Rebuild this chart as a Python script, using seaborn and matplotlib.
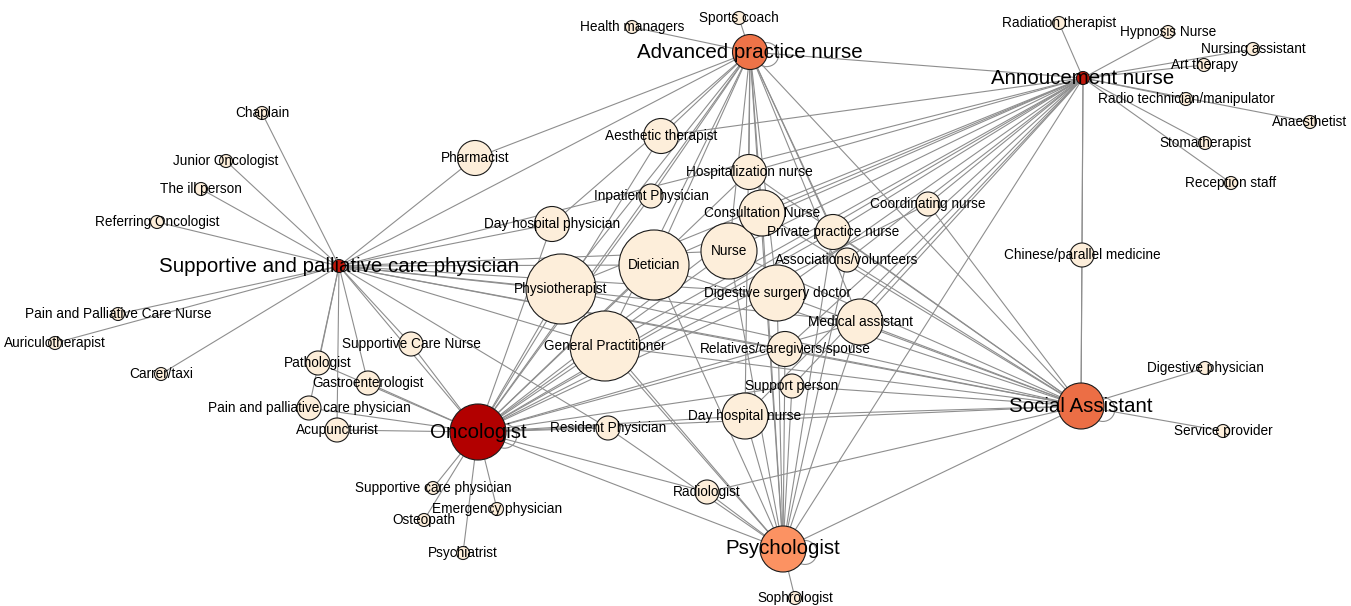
import pandas as pd
import numpy as np
import matplotlib.pyplot as plt
import seaborn as sns
from matplotlib.patches import Circle

# noeuds : nom, position du layout, poids (taille) et groupe (couleur)
names = [
    "Oncologist", "Supportive and palliative care physician", "Advanced practice nurse",
    "Annoucement nurse", "Social Assistant", "Psychologist",
    "Physiotherapist", "General Practitioner", "Dietician", "Nurse", "Digestive surgery doctor",
    "Consultation Nurse", "Day hospital nurse", "Medical assistant", "Hospitalization nurse",
    "Aesthetic therapist", "Pharmacist", "Day hospital physician", "Private practice nurse",
    "Relatives/caregivers/spouse", "Coordinating nurse", "Chinese/parallel medicine",
    "Supportive Care Nurse", "Pathologist", "Gastroenterologist", "Pain and palliative care physician",
    "Acupuncturist", "Inpatient Physician", "Support person", "Associations/volunteers",
    "Resident Physician", "Radiologist",
    "Health managers", "Sports coach", "Radiation therapist", "Hypnosis Nurse", "Nursing assistant",
    "Art therapy", "Radio technician/manipulator", "Anaesthetist", "Stomatherapist", "Reception staff",
    "Digestive physician", "Service provider", "Sophrologist", "Chaplain", "Junior Oncologist",
    "The ill person", "Referring Oncologist", "Pain and Palliative Care Nurse", "Auriculotherapist",
    "Carrer/taxi", "Supportive care physician", "Emergency physician", "Osteopath", "Psychiatrist",
]
pos_x = [478, 339, 750, 1083, 1081, 783,
         561, 605, 654, 729, 777, 762, 745, 860, 749, 661, 475, 552, 833, 785, 928, 1082,
         411, 318, 368, 309, 337, 651, 792, 847, 608, 707,
         632, 739, 1059, 1168, 1253, 1204, 1186, 1310, 1205, 1231, 1205, 1223, 795,
         262, 226, 201, 157, 118, 55, 161, 433, 497, 424, 463]
pos_y = [432, 266, 52, 78, 406, 549,
         289, 346, 265, 251, 293, 213, 416, 322, 172, 136, 158, 224, 232, 349, 204, 255,
         344, 363, 383, 408, 430, 196, 386, 260, 428, 492,
         27, 18, 23, 32, 49, 65, 99, 122, 143, 183, 368, 431, 598,
         113, 161, 189, 222, 314, 343, 374, 488, 509, 520, 553]
weight = [5, 1, 3, 1, 4, 4,
          6, 6, 6, 5, 5, 4, 4, 4, 3, 3, 3, 3, 3, 3, 2, 2,
          2, 2, 2, 2, 2, 2, 2, 2, 2, 2,
          1, 1, 1, 1, 1, 1, 1, 1, 1, 1, 1, 1, 1,
          1, 1, 1, 1, 1, 1, 1, 1, 1, 1, 1]
group = ["onc", "dark", "apn", "dark", "sa", "psy"] + ["other"] * (len(names) - 6)

# liens par acteur central
links = {
    "Oncologist": ["Supportive and palliative care physician", "Advanced practice nurse", "Annoucement nurse",
                   "Social Assistant", "Psychologist", "Physiotherapist", "General Practitioner", "Dietician",
                   "Nurse", "Digestive surgery doctor", "Medical assistant", "Day hospital nurse",
                   "Relatives/caregivers/spouse", "Consultation Nurse", "Hospitalization nurse",
                   "Day hospital physician", "Inpatient Physician", "Aesthetic therapist", "Supportive Care Nurse",
                   "Pathologist", "Gastroenterologist", "Pain and palliative care physician", "Acupuncturist",
                   "Resident Physician", "Radiologist", "Supportive care physician", "Emergency physician",
                   "Osteopath", "Psychiatrist", "Private practice nurse", "Support person", "Coordinating nurse"],
    "Supportive and palliative care physician": ["Chaplain", "Junior Oncologist", "The ill person",
                   "Referring Oncologist", "Pain and Palliative Care Nurse", "Auriculotherapist", "Carrer/taxi",
                   "Pathologist", "Gastroenterologist", "Acupuncturist", "Pain and palliative care physician",
                   "Supportive Care Nurse", "Physiotherapist", "Dietician", "General Practitioner",
                   "Day hospital physician", "Pharmacist", "Nurse", "Digestive surgery doctor", "Medical assistant",
                   "Relatives/caregivers/spouse", "Resident Physician", "Advanced practice nurse",
                   "Annoucement nurse", "Social Assistant"],
    "Advanced practice nurse": ["Health managers", "Sports coach", "Annoucement nurse", "Pharmacist",
                   "Aesthetic therapist", "Day hospital physician", "Physiotherapist", "Dietician",
                   "Hospitalization nurse", "Consultation Nurse", "Nurse", "Private practice nurse",
                   "Associations/volunteers", "Digestive surgery doctor", "Medical assistant", "Social Assistant",
                   "General Practitioner", "Inpatient Physician", "Psychologist", "Day hospital nurse"],
    "Annoucement nurse": ["Radiation therapist", "Hypnosis Nurse", "Nursing assistant", "Art therapy",
                   "Radio technician/manipulator", "Anaesthetist", "Stomatherapist", "Reception staff",
                   "Chinese/parallel medicine", "Psychologist", "Social Assistant", "Aesthetic therapist",
                   "Coordinating nurse", "Private practice nurse", "Consultation Nurse", "Nurse", "Dietician",
                   "Physiotherapist", "Digestive surgery doctor", "Medical assistant", "General Practitioner",
                   "Hospitalization nurse", "Day hospital nurse", "Relatives/caregivers/spouse",
                   "Support person", "Associations/volunteers"],
    "Social Assistant": ["Digestive physician", "Service provider", "Chinese/parallel medicine", "Psychologist",
                   "Medical assistant", "Coordinating nurse", "Private practice nurse", "Associations/volunteers",
                   "Digestive surgery doctor", "Nurse", "Consultation Nurse", "Dietician", "Physiotherapist",
                   "General Practitioner", "Day hospital nurse", "Relatives/caregivers/spouse", "Radiologist",
                   "Support person", "Hospitalization nurse"],
    "Psychologist": ["Sophrologist", "Radiologist", "Resident Physician", "Day hospital nurse",
                   "General Practitioner", "Dietician", "Nurse", "Digestive surgery doctor",
                   "Relatives/caregivers/spouse", "Support person", "Medical assistant", "Physiotherapist",
                   "Private practice nurse", "Associations/volunteers", "Consultation Nurse"],
}
self_loops = ["Oncologist", "Social Assistant", "Psychologist", "Advanced practice nurse"]

nodes = pd.DataFrame({"name": names, "x": pos_x, "y": pos_y, "weight": weight, "group": group})
xy = nodes.set_index("name")[["x", "y"]]

rows = []
k = 0
for src, targets in links.items():
    for t in targets:
        rows.append({"edge": k, "x": xy.loc[src, "x"], "y": xy.loc[src, "y"]})
        rows.append({"edge": k, "x": xy.loc[t, "x"], "y": xy.loc[t, "y"]})
        k += 1
edges = pd.DataFrame(rows)

palette = {"onc": "#b20000", "dark": "#c0170a", "apn": "#ee7348", "sa": "#ec6e45",
           "psy": "#fc9262", "other": "#fdeeda"}
# rayon en pixels -> aire en pt^2 (dpi 100)
radius = {1: 6.5, 2: 12, 3: 17.5, 4: 23, 5: 28, 6: 35}
sizes = {w: (2 * r * 0.72) ** 2 for w, r in radius.items()}

fig = plt.figure(figsize=(13.51, 6.06), dpi=100)
ax = fig.add_axes([0, 0, 1, 1])

sns.lineplot(data=edges, x="x", y="y", units="edge", estimator=None, sort=False,
             color="#8e8e8e", linewidth=0.8, ax=ax, zorder=1)

for n in self_loops:
    r = radius[nodes.loc[nodes.name == n, "weight"].iloc[0]]
    cx = xy.loc[n, "x"] + r * 0.95
    cy = xy.loc[n, "y"] + r * 0.15
    ax.add_patch(Circle((cx, cy), 12, fill=False, edgecolor="#8e8e8e", linewidth=0.8, zorder=1))

sns.scatterplot(data=nodes, x="x", y="y", hue="group", palette=palette, size="weight", sizes=sizes,
                edgecolor="#1a1a1a", linewidth=0.8, legend=False, ax=ax, zorder=2)

for _, row in nodes.iterrows():
    hub = row["group"] != "other"
    ax.text(row["x"], row["y"], row["name"], ha="center", va="center",
            fontsize=14.8 if hub else 9.8, family=["Liberation Sans", "DejaVu Sans"], zorder=3)

ax.set_xlim(0, 1351)
ax.set_ylim(606, 0)
ax.axis("off")
fig.savefig("out.png", dpi=100)
